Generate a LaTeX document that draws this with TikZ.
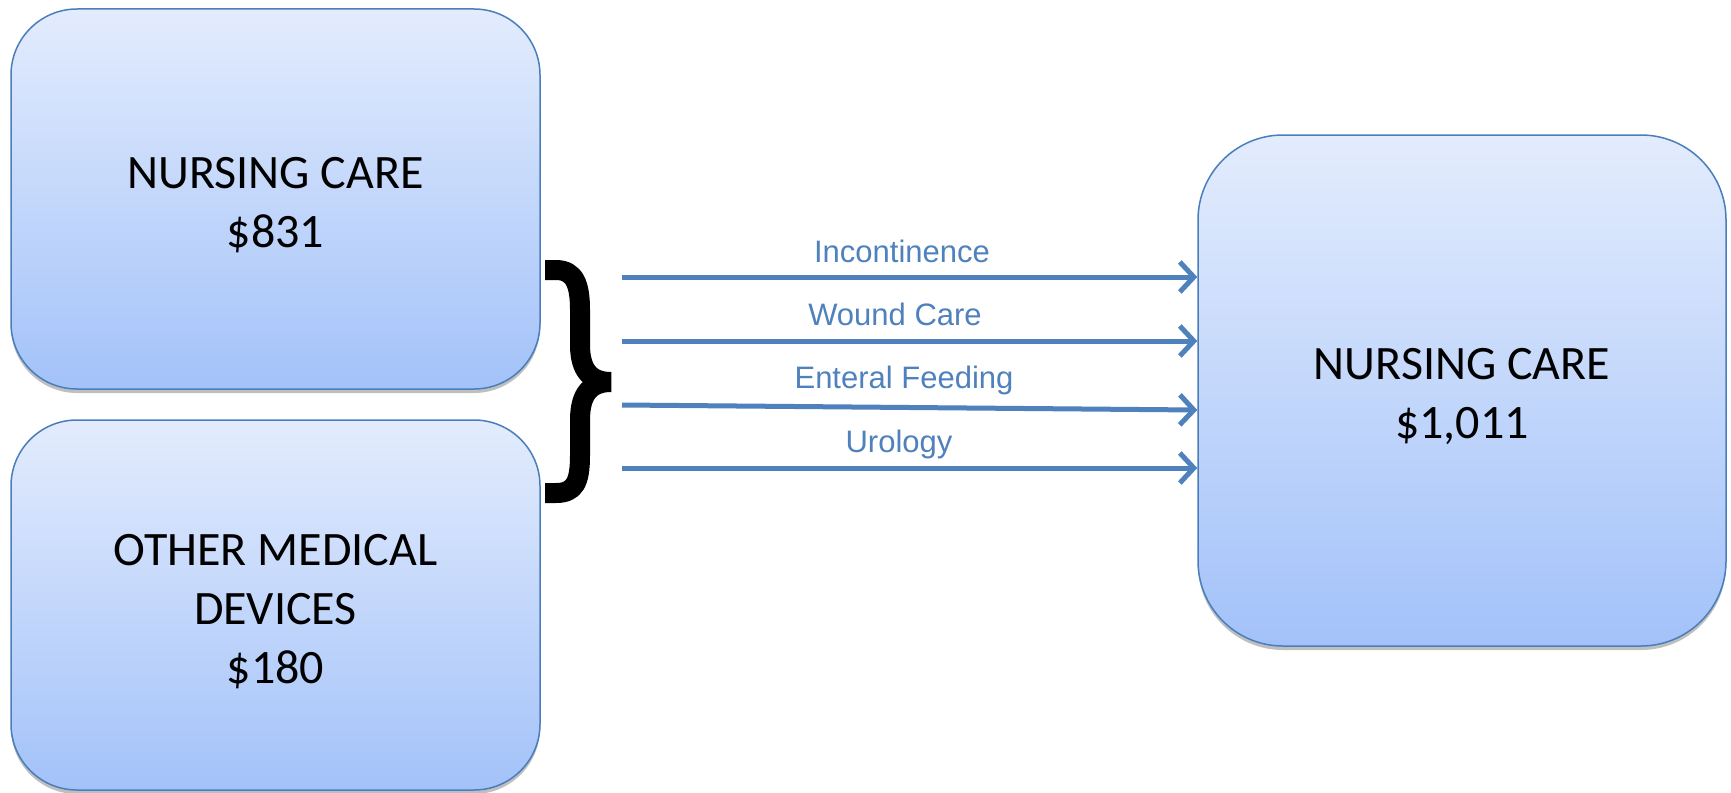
\documentclass[tikz,border=0pt]{standalone}
\usepackage{fontspec}
\setmainfont{Carlito}
\newfontfamily\lblfont{Liberation Sans}
\usetikzlibrary{arrows.meta,shadows,calc}
\definecolor{bord}{HTML}{4A7EBB}
\definecolor{topc}{HTML}{E3ECFD}
\definecolor{botc}{HTML}{A3C2F9}
\definecolor{arr}{HTML}{4F81BD}
\begin{document}
\begin{tikzpicture}[x=1pt,y=-1pt,
  box/.style={draw=bord, line width=1.5pt, top color=topc, bottom color=botc,
    align=center, inner sep=0pt, font=\fontsize{48}{59}\selectfont,
    drop shadow={shadow xshift=0pt, shadow yshift=-4pt, opacity=0.25, fill=black}},
  flow/.style={draw=arr, line width=5pt,
    -{Straight Barb[length=14pt,width=30pt,line width=5pt]}},
  lbl/.style={text=arr, font=\lblfont\fontsize{31}{36}\selectfont, inner sep=0pt, anchor=base},
  bracestyle/.style={line width=20pt, black, line join=bevel}]
\useasboundingbox[fill=white] (0,0) rectangle (1731,792);

\node[box, minimum width=529pt, minimum height=380pt, rounded corners=66pt] (b1) at (275.5,199) {\rule{0pt}{44pt}NURSING CARE\\\$831};
\node[box, minimum width=529pt, minimum height=370pt, rounded corners=66pt] (b2) at (275.5,605) {\rule{0pt}{44pt}OTHER MEDICAL\\DEVICES\\\$180};
\node[box, minimum width=528pt, minimum height=511pt, rounded corners=85pt] (b3) at (1462,390.5) {\rule{0pt}{44pt}NURSING CARE\\\$1,011};

% brace
\draw[bracestyle] (545,270) -- (556,270) .. controls (575,270) and (580,285) .. (580,310) -- (580,345)
  .. controls (580,372) and (592,382) .. (611,382)
  .. controls (592,382) and (580,392) .. (580,420) -- (580,455)
  .. controls (580,482) and (575,493) .. (556,493) -- (545,493);

% arrows
\coordinate (s1) at (622,277);
\coordinate (s2) at (622,341);
\coordinate (s3) at (622,405);
\coordinate (y3) at (0,410);
\coordinate (s4) at (622,468);
\coordinate (e3) at (b3.west |- y3);
\draw[flow] (s1) -- (s1 -| b3.west);
\draw[flow] (s2) -- (s2 -| b3.west);
\draw[flow] (s3) -- (e3);
\draw[flow] (s4) -- (s4 -| b3.west);

\node[lbl] (l1) at (902,262) {Incontinence};
\node[lbl] (l2) at (895,325) {Wound Care};
\node[lbl] (l3) at (904,388) {Enteral Feeding};
\node[lbl] (l4) at (899,452) {Urology};
\end{tikzpicture}
\end{document}
